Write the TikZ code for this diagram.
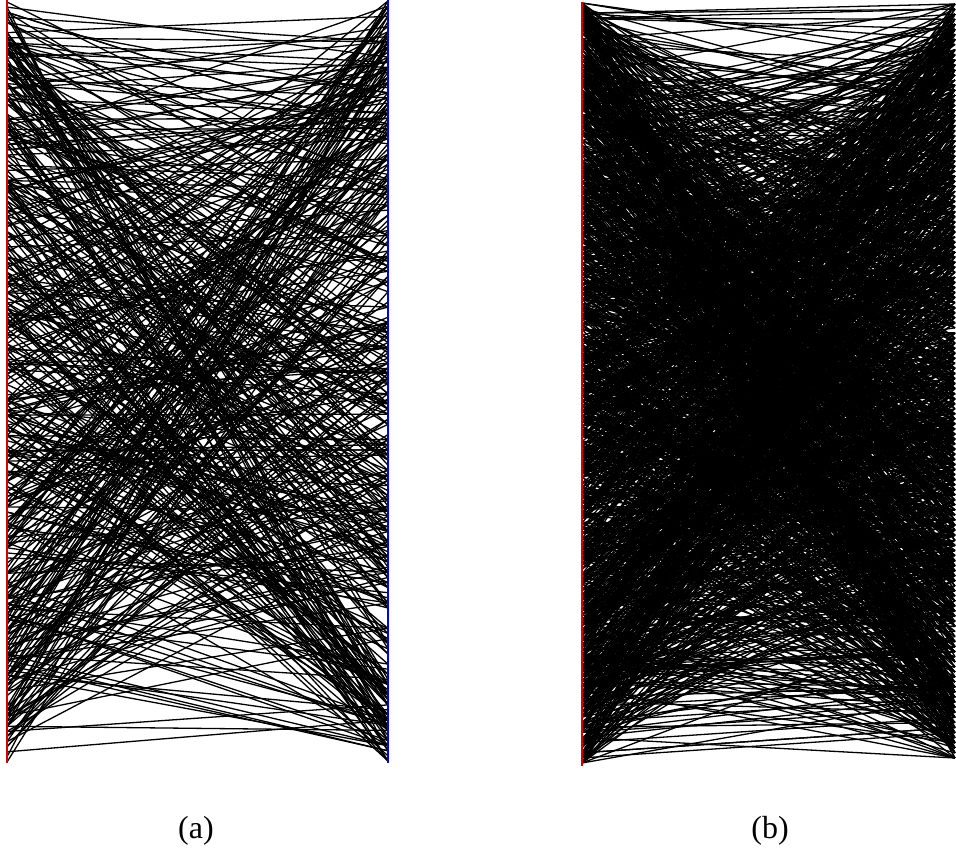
\documentclass[tikz,border=0pt]{standalone}
\usepackage{fontspec}
\setmainfont{Liberation Serif}
\usepackage{tikz}
\usetikzlibrary{positioning}
\begin{document}
\begin{tikzpicture}[x=1pt,y=-1pt,
  edge/.style={line width=1.3pt,black},
  leftside/.style={line width=2pt,red!85!black},
  rightside/.style={line width=2pt,blue}]
\useasboundingbox (0,0) rectangle (956,849);
\pgfmathsetseed{4211}
\foreach \i in {0,...,149}{
  \coordinate (al\i) at (7,{2+\i*5.1007});
  \coordinate (ar\i) at (388,{1+\i*5.1007});
  \coordinate (bl\i) at (582,{3+\i*5.1007});
  \coordinate (br\i) at (955,{4+\i*5.0604});
}
\foreach \k in {1,...,480}{
  \pgfmathtruncatemacro\u{random(0,149)}
  \pgfmathtruncatemacro\v{random(0,149)}
  \draw[edge] (al\u) -- (ar\v);
}
\foreach \k in {1,...,1400}{
  \pgfmathtruncatemacro\u{random(0,149)}
  \pgfmathtruncatemacro\v{random(0,149)}
  \draw[edge] (bl\u) -- (br\v);
}
\draw[leftside] (7,0) -- (7,763);
\draw[rightside] (388,0) -- (388,763);
\draw[leftside] (582,2) -- (582,766);
\node[font=\fontsize{32}{36}\selectfont] (capa) at (196,831) {(a)};
\node[font=\fontsize{32}{36}\selectfont] (capb) at (770,831) {(b)};
\end{tikzpicture}
\end{document}
